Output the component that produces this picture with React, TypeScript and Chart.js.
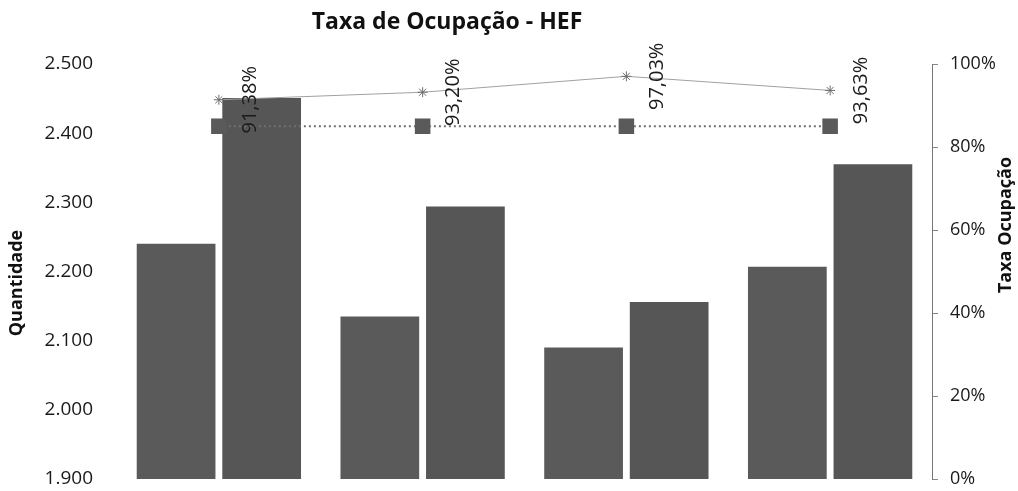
import React, { useEffect, useRef } from "react";
import { Chart, registerables } from "chart.js";

Chart.register(...registerables);

const categories = ["1", "2", "3", "4"];
const quantidadeA = [2240, 2135, 2090, 2207];
const quantidadeB = [2451, 2294, 2156, 2355];
const taxaOcupacao = [91.38, 93.2, 97.03, 93.63];
const meta = [85, 85, 85, 85];
const leftTicks = [1900, 2000, 2100, 2200, 2300, 2400, 2500];
const rightTicks = [0, 20, 40, 60, 80, 100];

const titleText = "Taxa de Ocupação - HEF";
const leftTitle = "Quantidade";
const rightTitle = "Taxa Ocupação";

const FONT = "'Open Sans', 'Noto Sans', sans-serif";

const fmtThousands = (v: number) => {
  const s = Math.round(v).toString();
  return s.replace(/\B(?=(\d{3})+(?!\d))/g, ".");
};

const fmtPct = (v: number) => v.toFixed(2).replace(".", ",") + "%";

const overlayPlugin = {
  id: "overlay",
  afterDatasetsDraw(chart: any) {
    const ctx = chart.ctx;
    const metaSet = chart.getDatasetMeta(2);
    ctx.save();
    ctx.fillStyle = "#1a1a1a";
    ctx.font = `20px ${FONT}`;
    ctx.textAlign = "center";
    ctx.textBaseline = "middle";
    metaSet.data.forEach((pt: any, i: number) => {
      ctx.save();
      ctx.translate(pt.x + 31, pt.y);
      ctx.rotate(-Math.PI / 2);
      ctx.fillText(fmtPct(taxaOcupacao[i]), 0, 0);
      ctx.restore();
    });
    ctx.restore();
  },
  afterDraw(chart: any) {
    const ctx = chart.ctx;
    ctx.save();
    ctx.fillStyle = "#111";
    ctx.textAlign = "center";
    ctx.textBaseline = "middle";
    ctx.font = `bold 23px ${FONT}`;
    ctx.fillText(titleText, 447, 22);
    ctx.font = `bold 18px ${FONT}`;
    ctx.save();
    ctx.translate(17, 283);
    ctx.rotate(-Math.PI / 2);
    ctx.fillText(leftTitle, 0, 0);
    ctx.restore();
    ctx.save();
    ctx.translate(1006, 225);
    ctx.rotate(-Math.PI / 2);
    ctx.fillText(rightTitle, 0, 0);
    ctx.restore();
    ctx.restore();
  },
};

export default function App() {
  const ref = useRef<HTMLCanvasElement | null>(null);

  useEffect(() => {
    document.body.style.margin = "0";
    if (!ref.current) return;
    const chart = new Chart(ref.current, {
      type: "bar",
      data: {
        labels: categories,
        datasets: [
          {
            type: "bar",
            label: "A",
            data: quantidadeA,
            backgroundColor: "#5a5a5a",
            yAxisID: "y",
            order: 2,
            categoryPercentage: 0.84,
            barPercentage: 0.92,
          },
          {
            type: "bar",
            label: "B",
            data: quantidadeB,
            backgroundColor: "#565656",
            yAxisID: "y",
            order: 2,
            categoryPercentage: 0.84,
            barPercentage: 0.92,
          },
          {
            type: "line",
            label: "Taxa",
            data: taxaOcupacao,
            yAxisID: "y1",
            borderColor: "#a0a0a0",
            borderWidth: 1,
            pointStyle: "star",
            pointRadius: 5,
            pointBorderColor: "#6e6e6e",
            pointBorderWidth: 1,
            backgroundColor: "#6e6e6e",
            order: 0,
          } as any,
          {
            type: "line",
            label: "Meta",
            data: meta,
            yAxisID: "y1",
            borderColor: "#707070",
            borderWidth: 2,
            borderDash: [2, 3],
            pointStyle: "rect",
            pointRadius: 11,
            pointBackgroundColor: "#5a5a5a",
            pointBorderColor: "#5a5a5a",
            pointBorderWidth: 0,
            order: 1,
          } as any,
        ],
      },
      options: {
        animation: false,
        responsive: false,
        maintainAspectRatio: false,
        devicePixelRatio: 1,
        layout: { padding: { top: 64, bottom: 12, left: 0, right: 0 } },
        plugins: {
          legend: { display: false },
          title: { display: false },
          tooltip: { enabled: false },
        },
        scales: {
          x: {
            display: false,
            offset: true,
            grid: { display: false },
          },
          y: {
            position: "left",
            min: 1900,
            max: 2500,
            afterBuildTicks: (scale: any) => {
              scale.ticks = leftTicks.map((v) => ({ value: v }));
            },
            afterFit: (scale: any) => {
              scale.width = 117;
              scale.paddingTop = 0;
              scale.paddingBottom = 0;
            },
            grid: { display: false, drawTicks: false },
            border: { display: false },
            ticks: {
              padding: 24,
              color: "#1a1a1a",
              font: { family: FONT, size: 19 },
              callback: (v: any) => fmtThousands(Number(v)),
            },
          },
          y1: {
            position: "right",
            min: 0,
            max: 100,
            afterBuildTicks: (scale: any) => {
              scale.ticks = rightTicks.map((v) => ({ value: v }));
            },
            afterFit: (scale: any) => {
              scale.width = 86;
              scale.paddingTop = 0;
              scale.paddingBottom = 0;
            },
            grid: {
              drawOnChartArea: false,
              drawTicks: true,
              tickLength: 6,
              color: "#888",
              lineWidth: 1,
            },
            border: { display: true, color: "#777", width: 1, dash: [1, 1] },
            ticks: {
              padding: 12,
              color: "#1a1a1a",
              font: { family: FONT, size: 18 },
              callback: (v: any) => `${v}%`,
            },
          },
        },
      },
      plugins: [overlayPlugin],
    });
    return () => chart.destroy();
  }, []);

  return (
    <div style={{ width: 1018, height: 491 }}>
      <canvas ref={ref} width={1018} height={491} style={{ display: "block" }} />
    </div>
  );
}
